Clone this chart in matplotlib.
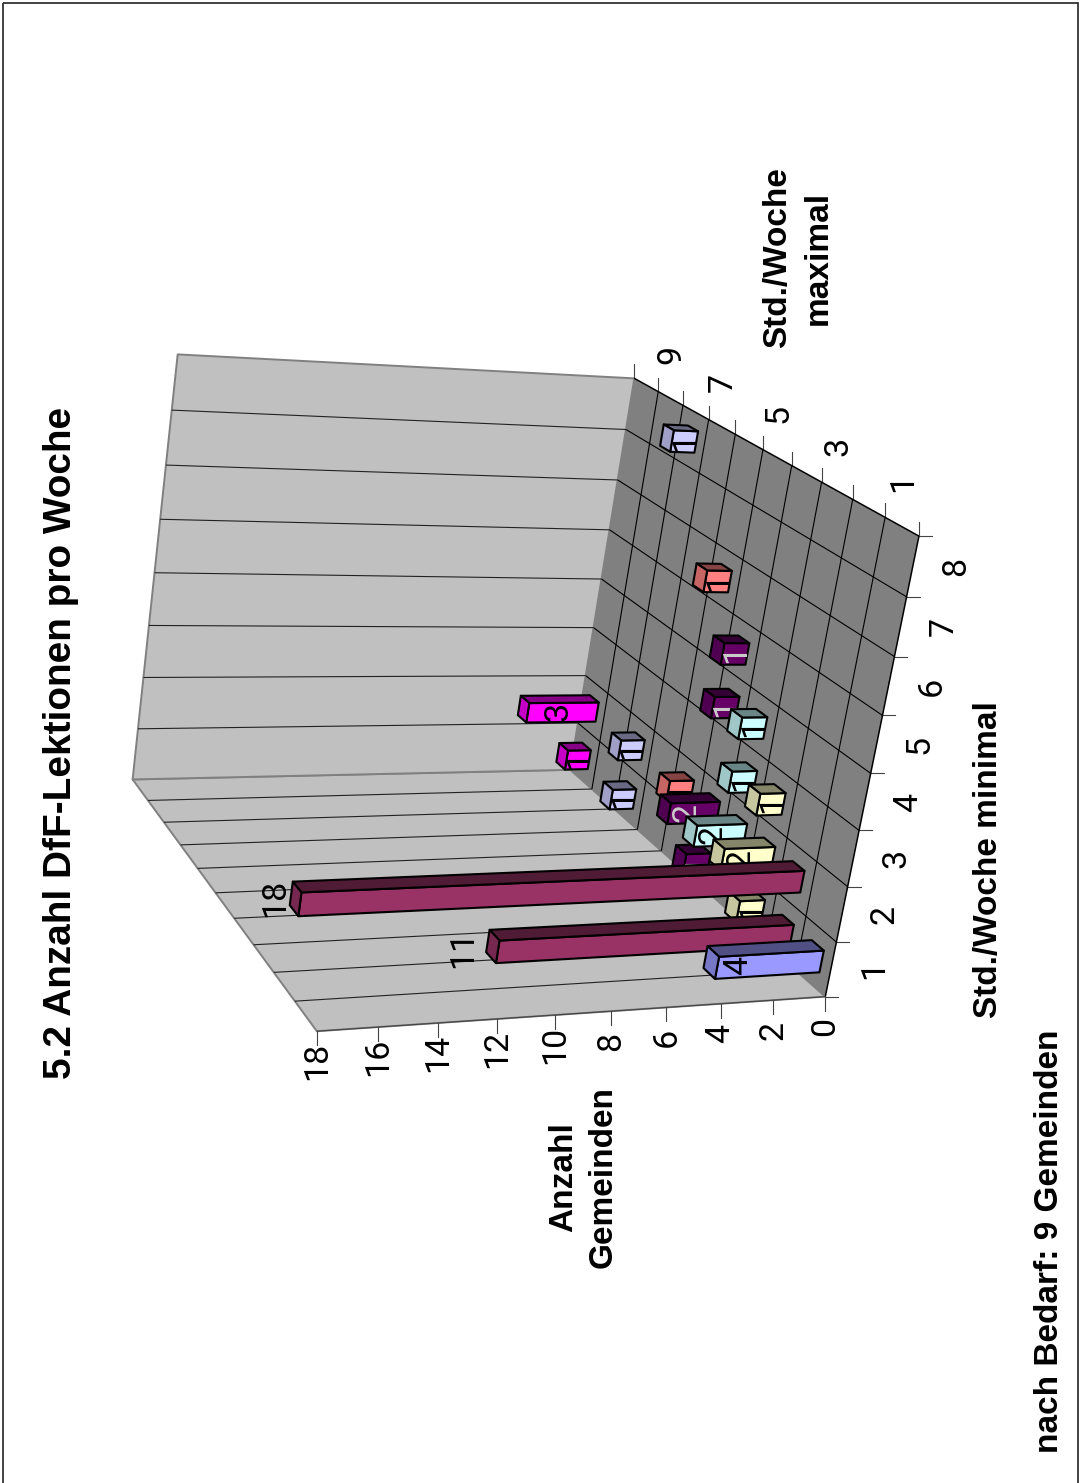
import numpy as np
import matplotlib
matplotlib.use("Agg")
from matplotlib import pyplot as plt
from matplotlib.patches import Polygon, Rectangle

plt.rcParams['font.family'] = ['Liberation Sans', 'DejaVu Sans']

# region data
minHours = [1, 1, 2, 1, 2, 3, 2, 3, 4, 1, 2, 4, 5, 2, 6, 1, 2, 8, 1, 2]
maxHours = [1, 2, 2, 3, 3, 3, 4, 4, 4, 5, 5, 5, 5, 6, 6, 8, 8, 8, 10, 10]
counts = [4, 11, 18, 1, 2, 1, 2, 1, 1, 1, 2, 1, 1, 1, 1, 1, 1, 1, 1, 3]

seriesColors = {1: '#9999FF', 2: '#993366', 3: '#FFFFCC', 4: '#CCFFFF', 5: '#660066',
                6: '#FF8080', 8: '#CCCCFF', 10: '#FF00FF'}
minLabels = [1, 2, 3, 4, 5, 6, 7, 8]
maxLabels = [1, 3, 5, 7, 9]
countTicks = [0, 2, 4, 6, 8, 10, 12, 14, 16, 18]
# endregion

N_MIN = 8
N_MAX = 10
TOP = 18
BAR = 0.4
FS = 24.5
DIGITS = ['Roboto', 'Liberation Sans']  # its 1 has no foot

# height (in count units) where each value's label sits on its bar
labelHeight = {1: 0.45, 2: 1.3, 3: 1.7, 4: 3.2, 11: 12.2, 18: 18.8}


def fitCamera():
    """Solve the 3x4 projection from the box corners (min, max, count) -> page pixels."""
    world = [(0, 0, 0), (N_MIN, 0, 0), (N_MIN, N_MAX, 0), (0, N_MAX, 0),
             (0, 0, TOP), (N_MIN, N_MAX, TOP), (0, N_MAX, TOP)]
    page = [(826, 996), (919, 537), (634, 378), (570, 770),
            (316, 1031), (178, 354), (133, 780)]
    rows = []
    for (X, Y, Z), (x, y) in zip(world, page):
        rows.append([X, Y, Z, 1, 0, 0, 0, 0, -x * X, -x * Y, -x * Z, -x])
        rows.append([0, 0, 0, 0, X, Y, Z, 1, -y * X, -y * Y, -y * Z, -y])
    _, _, vt = np.linalg.svd(np.array(rows, dtype=float))
    return vt[-1].reshape(3, 4)


CAM = fitCamera()


def proj(u, v, w):
    p = CAM @ np.array([u, v, w, 1.0])
    return p[0] / p[2], p[1] / p[2]


def shade(color, k):
    rgb = np.array(matplotlib.colors.to_rgb(color)) * k
    return tuple(rgb)


def quad(ax, corners, face, edge, lw, z):
    ax.add_patch(Polygon([proj(*c) for c in corners], closed=True, facecolor=face,
                         edgecolor=edge, linewidth=lw, joinstyle='round', zorder=z))


def line3(ax, a, b, color='k', lw=0.8, z=2):
    pa, pb = proj(*a), proj(*b)
    ax.plot([pa[0], pb[0]], [pa[1], pb[1]], color=color, lw=lw, zorder=z,
            solid_capstyle='butt')


def drawBox(ax):
    # walls and floor
    quad(ax, [(0, 0, 0), (0, 0, TOP), (0, N_MAX, TOP), (0, N_MAX, 0)], '#C0C0C0', '#808080', 1.4, 1)
    quad(ax, [(0, N_MAX, 0), (0, N_MAX, TOP), (N_MIN, N_MAX, TOP), (N_MIN, N_MAX, 0)], '#C0C0C0', '#808080', 1.4, 1)
    quad(ax, [(0, 0, 0), (N_MIN, 0, 0), (N_MIN, N_MAX, 0), (0, N_MAX, 0)], '#808080', 'none', 0, 1.5)

    # category grid runs across the floor and on up the walls
    for u in range(1, N_MIN):
        line3(ax, (u, 0, 0), (u, N_MAX, 0))
        line3(ax, (u, N_MAX, 0), (u, N_MAX, TOP), color='#222222')
    for v in range(1, N_MAX):
        line3(ax, (0, v, 0), (N_MIN, v, 0))
        line3(ax, (0, v, 0), (0, v, TOP), color='#222222')

    # outer floor edges
    line3(ax, (0, 0, 0), (N_MIN, 0, 0), lw=1.1, z=2.5)
    line3(ax, (N_MIN, 0, 0), (N_MIN, N_MAX, 0), lw=1.1, z=2.5)
    line3(ax, (0, 0, 0), (0, 0, TOP), color='#444444', lw=0.8, z=2.5)


def drawTicks(ax):
    for w in countTicks:
        x, y = proj(0, 0, w)
        ax.plot([x, x], [y, y + 14], color='#444444', lw=0.8, zorder=2)
        ax.text(x, y + 30, str(w), rotation=90, ha='center', va='center', fontsize=FS, family=DIGITS)
    for u in range(N_MIN + 1):
        x, y = proj(u, 0, 0)
        ax.plot([x, x + 13], [y, y], color='#444444', lw=0.8, zorder=2)
    for lab in minLabels:
        x, y = proj(lab - 0.5, 0, 0)
        ax.text(x + 43, y, str(lab), rotation=90, ha='center', va='center', fontsize=FS, family=DIGITS)
    for v in range(N_MAX + 1):
        x, y = proj(N_MIN, v, 0)
        ax.plot([x, x], [y, y - 14], color='#444444', lw=0.8, zorder=2)
    for lab in maxLabels:
        x, y = proj(N_MIN, lab - 0.5, 0)
        ax.text(x + 1, y - 44, str(lab), rotation=90, ha='center', va='center', fontsize=FS, family=DIGITS)


def drawBars(ax):
    # far rows first, then low min-hours, so nearer bars cover the ones behind
    order = sorted(range(len(counts)), key=lambda k: (-maxHours[k], minHours[k]))
    z = 3.0
    for k in order:
        val = counts[k]
        color = seriesColors[maxHours[k]]
        u0 = minHours[k] - 0.5 - BAR / 2
        u1 = u0 + BAR
        v0 = maxHours[k] - 0.5 - BAR / 2
        v1 = v0 + BAR
        quad(ax, [(u0, v0, 0), (u1, v0, 0), (u1, v0, val), (u0, v0, val)], color, 'k', 1.5, z)
        quad(ax, [(u1, v0, 0), (u1, v1, 0), (u1, v1, val), (u1, v0, val)], shade(color, 0.52), 'k', 1.5, z)
        quad(ax, [(u0, v0, val), (u1, v0, val), (u1, v1, val), (u0, v1, val)], shade(color, 0.78), 'k', 1.5, z)
        x, y = proj((u0 + u1) / 2, v0, labelHeight[val])
        tc = '#CCCCCC' if color == '#660066' else 'k'
        ax.text(x, y - 0.4 * val, str(val), rotation=90, ha='center', va='center', fontsize=FS,
                color=tc, zorder=z + 0.1, family=DIGITS)
        z += 0.2


def main():
    fig = plt.figure(figsize=(10.8, 14.83), dpi=100)
    ax = fig.add_axes([0, 0, 1, 1])
    ax.set_xlim(0, 1080)
    ax.set_ylim(1483, 0)
    ax.axis('off')

    ax.add_patch(Rectangle((2.5, 3), 1075.5, 1490, fill=False, edgecolor='#222222', lw=1.2))

    drawBox(ax)
    drawTicks(ax)
    drawBars(ax)

    ax.text(61, 743, '5.2 Anzahl DfF-Lektionen pro Woche', rotation=90, ha='center', va='center',
            fontsize=27.9, fontweight='bold')
    ax.text(988, 860, 'Std./Woche minimal', rotation=90, ha='center', va='center',
            fontsize=24, fontweight='bold')
    ax.text(798, 258, 'Std./Woche\nmaximal', rotation=90, ha='center', va='center',
            multialignment='center', fontsize=24, fontweight='bold', linespacing=1.4)
    ax.text(583, 1177, 'Anzahl\nGemeinden', rotation=90, ha='center', va='center',
            multialignment='center', fontsize=24, fontweight='bold', linespacing=1.35)
    ax.text(1049, 1241, 'nach Bedarf: 9 Gemeinden', rotation=90, ha='center', va='center',
            fontsize=24, fontweight='bold')

    fig.savefig('out.png', dpi=100)


if __name__ == "__main__":
    main()
